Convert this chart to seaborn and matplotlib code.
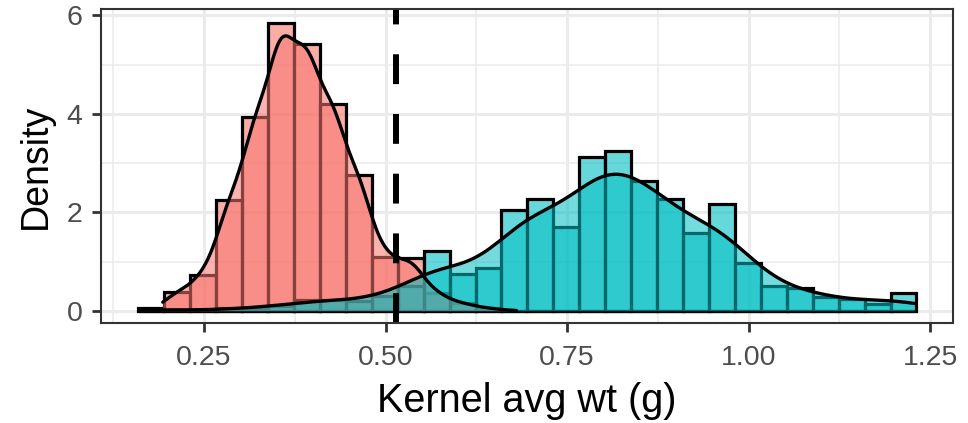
import numpy as np
import pandas as pd
import matplotlib
matplotlib.use("Agg")
import matplotlib.pyplot as plt
from matplotlib.ticker import MultipleLocator, FixedLocator
import seaborn as sns

# ---- data ----
bin_start = 0.1595
bin_width = 0.03572
n_bins = 30
red_density = [0.0, 0.39, 0.72, 2.26, 3.93, 5.85, 5.43, 4.20, 2.76, 1.10,
               1.07, 0.35, 0.15, 0.05, 0.0, 0.0, 0.0, 0.0, 0.0, 0.0,
               0.0, 0.0, 0.0, 0.0, 0.0, 0.0, 0.0, 0.0, 0.0, 0.0]
teal_density = [0.05, 0.0, 0.0, 0.05, 0.05, 0.10, 0.22, 0.22, 0.20, 0.30,
                0.50, 1.22, 0.75, 0.86, 2.05, 2.28, 1.71, 3.13, 3.25, 2.64,
                2.28, 1.57, 2.16, 0.96, 0.50, 0.46, 0.28, 0.23, 0.14, 0.37]
red_range = (0.193, 0.68)    # observed data range of each group
teal_range = (0.160, 1.228)
threshold = 0.514
x_ticks = [0.25, 0.50, 0.75, 1.00, 1.25]
x_tick_labels = ["0.25", "0.50", "0.75", "1.00", "1.25"]
y_ticks = [0, 2, 4, 6]
x_label = "Kernel avg wt (g)"
y_label = "Density"

RED = "#F8766D"
TEAL = "#00BFC4"

edges = bin_start + bin_width * np.arange(n_bins + 1)
centers = (edges[:-1] + edges[1:]) / 2
df = pd.DataFrame({"center": centers, "red": red_density, "teal": teal_density})

sns.set_theme(style="white")
plt.rcParams["font.family"] = ["Liberation Sans", "DejaVu Sans"]

fig = plt.figure(figsize=(9.68, 4.23), dpi=100)
ax = fig.add_axes([101 / 968, 1 - 323.3 / 423, (952.7 - 101) / 968, (323.3 - 9.3) / 423])

groups = [("red", RED, 0.24, red_range), ("teal", TEAL, 0.26, teal_range)]

# histograms
for col, color, _, _ in groups:
    sns.histplot(data=df, x="center", weights=col, bins=n_bins,
                 binrange=(float(edges[0]), float(edges[-1])), stat="count",
                 color=color, alpha=0.6, edgecolor="black", linewidth=2.3,
                 ax=ax)

# densities
for col, color, bw, rng in groups:
    sub = df[df[col] > 0]
    sns.kdeplot(data=sub, x="center", weights=col, bw_method=bw, cut=5, clip=rng,
                fill=True, color=color, alpha=0.55, linewidth=0, ax=ax)
    sns.kdeplot(data=sub, x="center", weights=col, bw_method=bw, cut=5, clip=rng,
                fill=False, color="black", linewidth=2.4, ax=ax)

ax.axvline(threshold, color="black", linewidth=4.3, dashes=(5, 5))

ax.set_xlim(0.108, 1.281)
ax.set_ylim(-0.256, 6.126)
ax.xaxis.set_major_locator(FixedLocator(x_ticks))
ax.set_xticklabels(x_tick_labels)
ax.xaxis.set_minor_locator(MultipleLocator(0.125))
ax.yaxis.set_major_locator(FixedLocator(y_ticks))
ax.yaxis.set_minor_locator(MultipleLocator(1))

ax.set_axisbelow(True)
ax.grid(which="major", color="#EBEBEB", linewidth=2.2)
ax.grid(which="minor", color="#EBEBEB", linewidth=1.1)

ax.tick_params(axis="both", which="major", length=6.5, width=2, color="#333333",
               labelsize=20.5, labelcolor="#4D4D4D", pad=7, direction="out",
               bottom=True, left=True)
ax.tick_params(axis="x", which="major", pad=9)
ax.tick_params(axis="both", which="minor", length=0)

for s in ax.spines.values():
    s.set_color("#333333")
    s.set_linewidth(1.5)

ax.set_xlabel(x_label, fontsize=28.5, color="black", labelpad=8)
ax.set_ylabel(y_label, fontsize=27, color="black", labelpad=9)

fig.savefig("out.png", dpi=100, facecolor="white")
